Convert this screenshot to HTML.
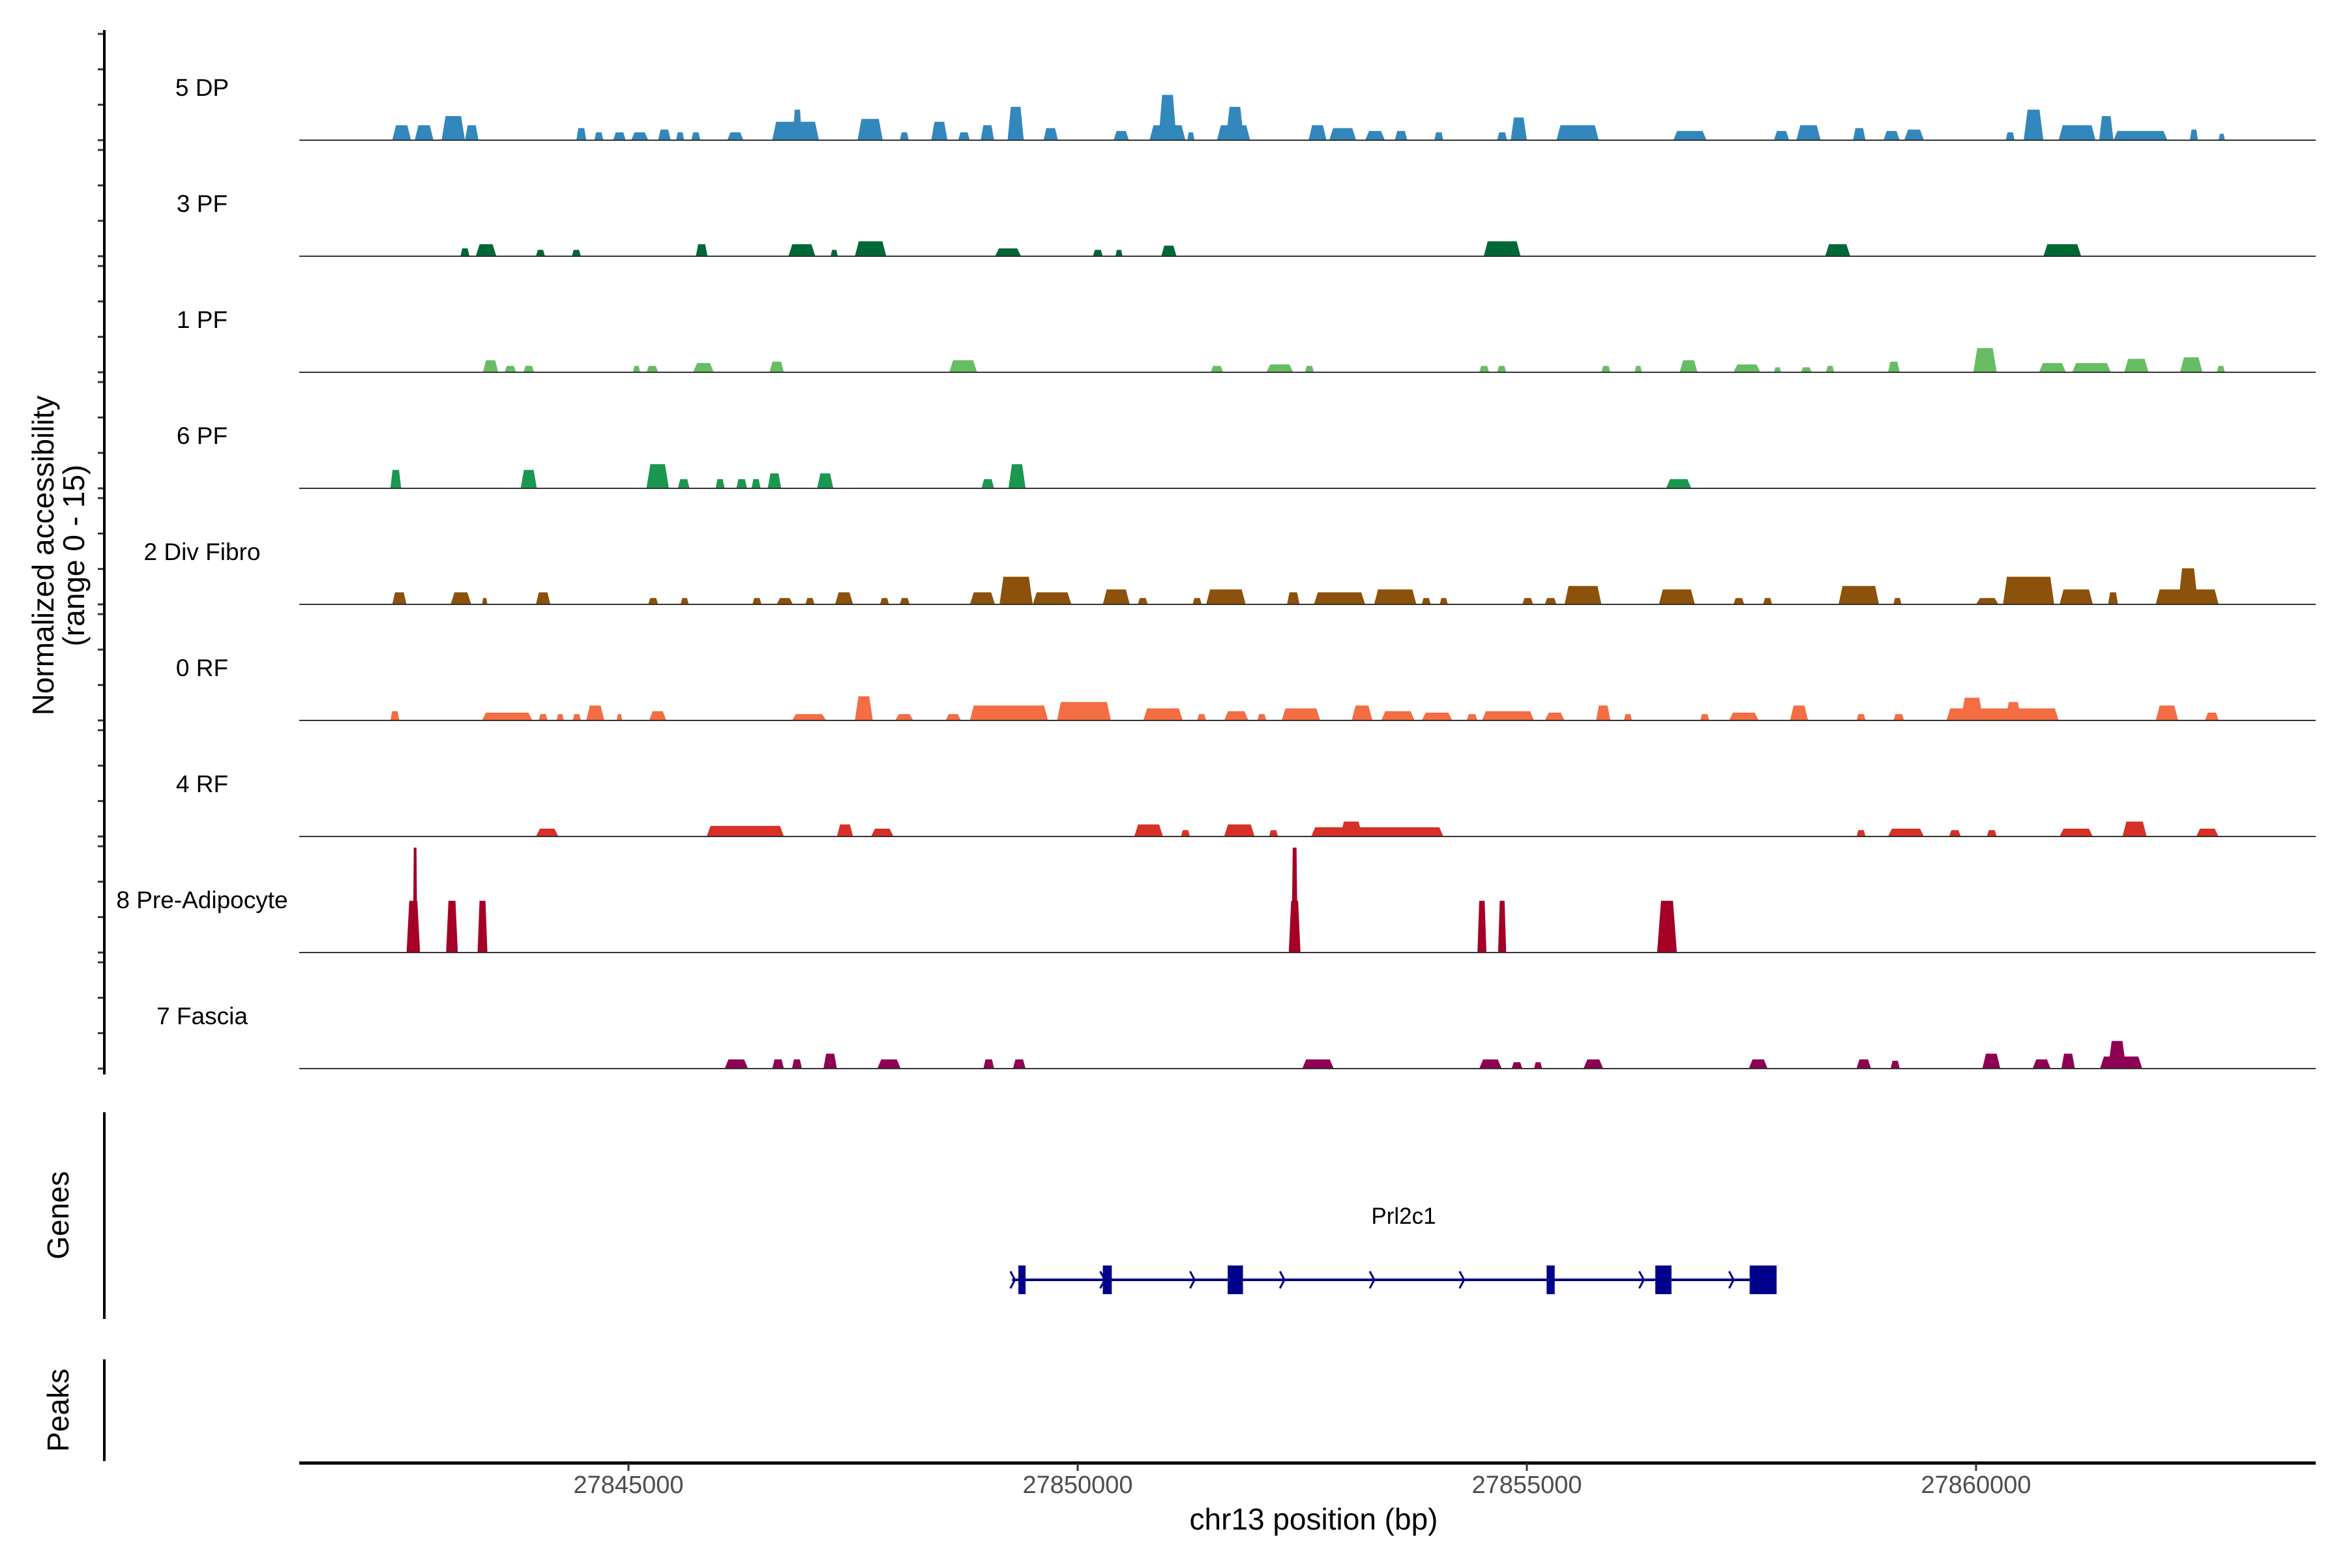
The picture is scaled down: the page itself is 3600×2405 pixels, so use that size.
<!DOCTYPE html>
<html><head><meta charset="utf-8">
<style>
html,body{margin:0;padding:0;background:#fff;}
svg text{font-family:"Liberation Sans",Arial,sans-serif;}
</style></head>
<body>
<svg id="chart" width="3600" height="2400" viewBox="0 0 3600 2400" xmlns="http://www.w3.org/2000/svg">
<g id="tracks"></g>
<g id="axes"></g>
<g id="genes"></g>
<text transform="translate(82,852) rotate(-90)" text-anchor="middle" font-size="46" fill="#000">Normalized accessibility</text>
<text transform="translate(129,852) rotate(-90)" text-anchor="middle" font-size="46" fill="#000">(range 0 - 15)</text>
<text transform="translate(105,1864) rotate(-90)" text-anchor="middle" font-size="46" fill="#000">Genes</text>
<text transform="translate(105,2163) rotate(-90)" text-anchor="middle" font-size="46" fill="#000">Peaks</text>
<text x="2015" y="2346" text-anchor="middle" font-size="46" fill="#000">chr13 position (bp)</text>
<text x="2153" y="1877" text-anchor="middle" font-size="35" fill="#000">Prl2c1</text>
</svg>
<script>
// positions in kb offset from 27838000 bp; values in normalized accessibility (0-15)
const REGION_START_BP = 27838000;
const trackNames = ["5 DP","3 PF","1 PF","6 PF","2 Div Fibro","0 RF","4 RF","8 Pre-Adipocyte","7 Fascia"];
const trackColors = ["#3288bd","#006837","#66bd63","#1a9850","#8c510a","#f46d43","#d73027","#a50026","#8e0152"];
const peaks5DP = [[4.37,4.58,2.1],[4.62,4.83,2.1],[4.92,5.18,3.4],[5.18,5.33,2.1],[6.42,6.53,1.7],[6.62,6.72,1.1],[6.83,6.97,1.1],[7.03,7.22,1.1],[7.33,7.47,1.5],[7.53,7.62,1.1],[7.70,7.80,1.1],[8.10,8.28,1.1],[8.60,9.12,2.6],[8.83,8.93,4.3],[9.55,9.83,3.0],[10.02,10.12,1.1],[10.37,10.55,2.6],[10.67,10.80,1.1],[10.92,11.07,2.1],[11.22,11.40,4.7],[11.62,11.78,1.7],[12.40,12.57,1.3],[12.80,13.20,2.1],[12.90,13.10,6.4],[13.22,13.30,1.1],[13.55,13.92,2.1],[13.65,13.85,4.7],[14.57,14.77,2.1],[14.80,15.10,1.7],[15.20,15.42,1.3],[15.53,15.67,1.3],[15.97,16.07,1.1],[16.67,16.78,1.1],[16.82,17.00,3.2],[17.33,17.80,2.1],[18.63,19.00,1.3],[19.75,19.92,1.3],[20.00,20.27,2.1],[20.63,20.77,1.7],[20.97,21.15,1.3],[21.20,21.42,1.5],[22.33,22.43,1.1],[22.53,22.75,4.3],[22.92,23.33,2.1],[23.37,23.53,3.4],[23.53,24.13,1.3],[24.38,24.47,1.5],[24.70,24.77,0.9]];
const peaks3PF = [[5.13,5.23,1.1],[5.30,5.53,1.7],[5.97,6.07,0.9],[6.37,6.47,0.9],[7.75,7.88,1.7],[8.78,9.08,1.7],[9.25,9.33,0.9],[9.52,9.87,2.1],[11.08,11.37,1.1],[12.17,12.28,0.9],[12.42,12.50,0.9],[12.93,13.10,1.5],[16.52,16.93,2.1],[20.32,20.60,1.7],[22.75,23.17,1.7]];
const peaks1PF = [[5.38,5.55,1.7],[5.62,5.75,0.9],[5.83,5.95,0.9],[7.05,7.13,0.9],[7.20,7.33,0.9],[7.72,7.95,1.3],[8.57,8.73,1.5],[10.57,10.88,1.7],[13.48,13.62,0.9],[14.10,14.40,1.1],[14.53,14.63,0.9],[16.47,16.58,0.9],[16.67,16.77,0.9],[17.83,17.93,0.9],[18.20,18.28,0.9],[18.70,18.90,1.7],[19.30,19.60,1.1],[19.75,19.83,0.7],[20.05,20.17,0.7],[20.33,20.42,0.9],[21.02,21.15,1.5],[21.97,22.23,3.4],[22.70,23.00,1.3],[23.07,23.50,1.3],[23.65,23.92,1.9],[24.27,24.52,2.1],[24.68,24.77,0.9]];
const peaks6PF = [[4.35,4.47,2.6],[5.80,5.98,2.6],[7.20,7.45,3.4],[7.55,7.68,1.3],[7.97,8.07,1.3],[8.20,8.32,1.3],[8.37,8.47,1.3],[8.55,8.70,2.1],[9.10,9.28,2.1],[10.93,11.07,1.3],[11.23,11.42,3.4],[18.55,18.83,1.3]];
const peaks2DivFibro = [[4.37,4.53,1.7],[5.02,5.25,1.7],[5.37,5.43,0.9],[5.97,6.13,1.7],[7.22,7.33,0.9],[7.58,7.67,0.9],[8.38,8.48,0.9],[8.65,8.83,0.9],[8.97,9.07,0.9],[9.30,9.50,1.7],[9.80,9.90,0.9],[10.02,10.13,0.9],[10.80,11.08,1.7],[11.13,11.50,3.9],[11.50,11.93,1.7],[12.28,12.58,2.1],[12.67,12.78,0.9],[13.28,13.38,0.9],[13.43,13.87,2.1],[14.33,14.47,1.7],[14.63,15.20,1.7],[15.30,15.77,2.1],[15.83,15.93,0.9],[16.03,16.12,0.9],[16.95,17.07,0.9],[17.20,17.33,0.9],[17.42,17.83,2.6],[18.47,18.87,2.1],[19.30,19.42,0.9],[19.63,19.73,0.9],[20.47,20.92,2.6],[21.08,21.17,0.9],[22.00,22.25,0.9],[22.30,22.87,3.9],[22.93,23.30,2.1],[23.47,23.58,1.7],[24.00,24.70,2.1],[24.25,24.47,5.1]];
const peaks0RF = [[4.35,4.45,1.3],[5.37,5.93,1.1],[6.00,6.10,0.9],[6.20,6.28,0.9],[6.38,6.47,0.9],[6.53,6.73,2.1],[6.87,6.93,0.9],[7.23,7.42,1.3],[8.82,9.20,0.9],[9.52,9.72,3.4],[9.97,10.17,0.9],[10.53,10.70,0.9],[10.80,11.67,2.1],[11.77,12.37,2.6],[12.73,13.17,1.7],[13.33,13.43,0.9],[13.63,13.90,1.3],[14.00,14.10,0.9],[14.27,14.70,1.7],[15.05,15.28,2.1],[15.38,15.75,1.3],[15.83,16.17,1.1],[16.33,16.45,0.9],[16.50,17.08,1.3],[17.20,17.42,1.1],[17.77,17.93,2.1],[18.08,18.17,0.9],[18.93,19.03,0.9],[19.25,19.58,1.1],[19.93,20.13,2.1],[20.67,20.77,0.9],[21.08,21.20,0.9],[21.67,22.92,1.7],[21.83,22.08,3.2],[22.33,22.50,2.6],[24.00,24.25,2.1],[24.55,24.70,1.1]];
const peaks4RF = [[5.97,6.22,1.1],[7.87,8.73,1.5],[9.32,9.50,1.7],[9.70,9.95,1.1],[12.63,12.95,1.7],[13.15,13.25,0.9],[13.63,13.97,1.7],[14.13,14.23,0.9],[14.60,16.07,1.3],[14.92,15.17,2.1],[20.67,20.77,0.9],[21.02,21.42,1.1],[21.70,21.83,0.9],[22.12,22.23,0.9],[22.93,23.30,1.1],[23.63,23.90,2.1],[24.45,24.70,1.1]];
const peaks8PreAdipocyte = [[4.53,4.68,7.3],[4.60,4.65,14.8],[4.97,5.10,7.3],[5.32,5.43,7.3],[14.35,14.48,7.3],[14.38,14.45,14.8],[16.45,16.55,7.3],[16.68,16.77,7.3],[18.45,18.67,7.3]];
const peaks7Fascia = [[8.07,8.33,1.3],[8.60,8.73,1.3],[8.82,8.93,1.3],[9.17,9.32,2.1],[9.77,10.03,1.3],[10.95,11.07,1.3],[11.28,11.42,1.3],[14.50,14.85,1.3],[16.47,16.72,1.3],[16.83,16.95,0.9],[17.08,17.17,0.9],[17.63,17.85,1.3],[19.47,19.68,1.3],[20.67,20.83,1.3],[21.05,21.15,1.1],[22.07,22.27,2.1],[22.63,22.83,1.3],[22.95,23.10,2.1],[23.38,23.85,1.7],[23.47,23.67,3.9]];
const trackPeaks = [peaks5DP,peaks3PF,peaks1PF,peaks6PF,peaks2DivFibro,peaks0RF,peaks4RF,peaks8PreAdipocyte,peaks7Fascia];
const yMax = 15;
const xTickKb = [7,12,17,22];
const geneStartKb = 11.27;
const geneEndKb = 19.78;
const geneExonsKb = [[11.34,11.42],[12.28,12.38],[13.67,13.84],[17.22,17.31],[18.43,18.61],[19.48,19.78]];
const geneChevronStepKb = 1.0;

const NS = "http://www.w3.org/2000/svg";
const PLOT_L = 459, PLOT_R = 3552;
const PX_PER_KB = 137.8;
function xScale(kb){ return 964 + (kb - 7) * PX_PER_KB; }
const BASE0 = 215, TRACK_STEP = 178.0, TRACK_H = 163;
function baseline(i){ return BASE0 + i * TRACK_STEP; }
function yScale(i, v){ return baseline(i) - v / yMax * TRACK_H; }
function mk(tag, attrs, parent){ const e=document.createElementNS(NS,tag); for(const k in attrs) e.setAttribute(k,attrs[k]); parent.appendChild(e); return e; }

const tracks = document.getElementById('tracks');
const axes = document.getElementById('axes');
const genes = document.getElementById('genes');

trackNames.forEach((name,i)=>{
  const g = mk('g',{},tracks);
  
  
  trackPeaks[i].forEach(p=>{
    const x0=xScale(p[0]), x1=xScale(p[1]), b=baseline(i), t=yScale(i,p[2]);
    const sl=Math.min((x1-x0)*0.2,6);
    const poly = mk('polygon',{points:`${x0},${b} ${x0+sl},${t} ${x1-sl},${t} ${x1},${b}`,fill:trackColors[i]},g);
    
    
  });
  const ln = mk('line',{x1:PLOT_L,x2:PLOT_R,y1:baseline(i),y2:baseline(i),stroke:'#333',"stroke-width":2},g);
  
  
  const lab = mk('text',{x:310,y:baseline(i)-68,"text-anchor":"middle","font-size":37,fill:'#000'},g);
  lab.textContent = name;
  
  
  for(let k=0;k<=3;k++){
    const yy = baseline(i) - TRACK_H*k/3;
    const tk = mk('line',{x1:150,x2:160,y1:yy,y2:yy,stroke:'#333',"stroke-width":3},axes);
    
    
  }
});
[[46,1648,'y-axis-line'],[1706,2023,'genes-axis-line'],[2085,2241,'peaks-axis-line']].forEach(a=>{
  const l = mk('line',{x1:160,x2:160,y1:a[0],y2:a[1],stroke:'#000',"stroke-width":4},axes);
  
  
});
const xa = mk('line',{x1:PLOT_L,x2:PLOT_R,y1:2244,y2:2244,stroke:'#000',"stroke-width":5},axes);


xTickKb.forEach(kb=>{
  const x=xScale(kb);
  const t = mk('line',{x1:x,x2:x,y1:2244,y2:2256,stroke:'#333',"stroke-width":3},axes);
  
  
  const tl = mk('text',{x:x,y:2290,"text-anchor":"middle","font-size":38,fill:'#4d4d4d'},axes);
  tl.textContent = String(REGION_START_BP + kb*1000);
  
  
});
const GY = 1963;
const gl = mk('line',{x1:xScale(geneStartKb),x2:xScale(geneEndKb),y1:GY,y2:GY,stroke:'#00008b',"stroke-width":4},genes);


for(let kb=geneStartKb+0.01; kb<geneEndKb; kb+=geneChevronStepKb){
  const x=xScale(kb);
  const c = mk('polyline',{points:`${x-4},${GY-13} ${x+3},${GY} ${x-4},${GY+13}`,fill:'none',stroke:'#00008b',"stroke-width":3},genes);
  
  
}
geneExonsKb.forEach(e=>{
  const x0=xScale(e[0]), x1=xScale(e[1]);
  const r = mk('rect',{x:x0,y:GY-22,width:x1-x0,height:44,fill:'#00008b'},genes);
  
  
});
</script>
</body></html>
